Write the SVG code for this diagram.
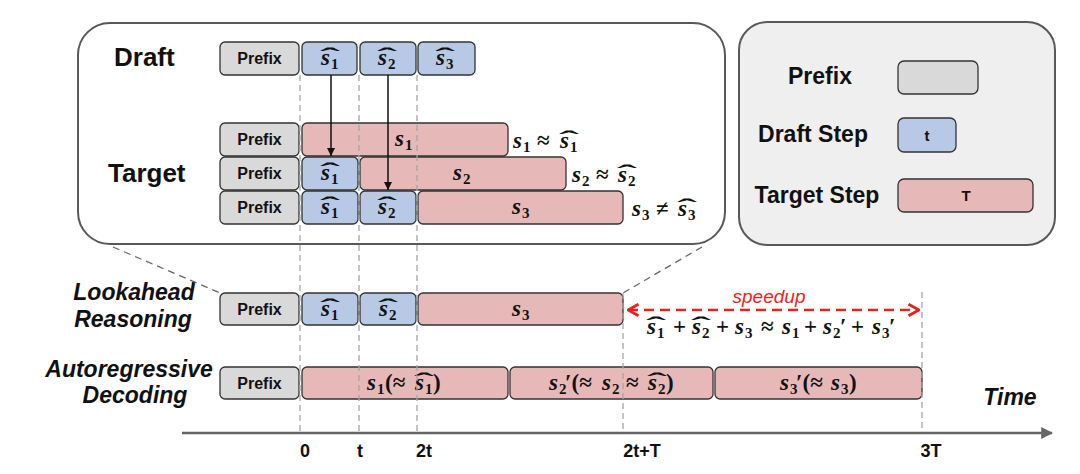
<svg xmlns="http://www.w3.org/2000/svg" width="1080" height="474" viewBox="0 0 1080 474">
<defs>
<style>
.pre{fill:#d9d9d9;stroke:#333;stroke-width:1.3}
.drf{fill:#b7c9e4;stroke:#333;stroke-width:1.3}
.tgt{fill:#e6b8b8;stroke:#333;stroke-width:1.3}
.t{font-family:"Liberation Sans",Arial,sans-serif;font-weight:bold;fill:#111}
.pf{font-size:16px;text-anchor:middle}
.big{font-size:26px}
.lg{font-size:23px;text-anchor:middle}
.it{font-style:italic;font-size:23px;text-anchor:middle}
.tick{font-size:18px;text-anchor:middle}
.m{font-family:"Liberation Serif","Times New Roman",serif;font-weight:bold;font-style:italic;font-size:23px;fill:#111}
.sb{font-size:15px;font-style:normal}
.op{font-style:normal}
.h{font-style:normal;font-size:23px}
.dl{stroke:#a6a6a6;stroke-width:1.3;stroke-dasharray:6 4;fill:none}
.zl{stroke:#666;stroke-width:1.3;stroke-dasharray:7 5;fill:none}
.ar{stroke:#111;stroke-width:1.5;fill:none}
</style>
<marker id="ah" viewBox="0 0 10 10" refX="10" refY="5" markerWidth="8" markerHeight="9" markerUnits="userSpaceOnUse" orient="auto"><path d="M0,0 L10,5 L0,10 z" fill="#111"/></marker>
<marker id="rh" viewBox="0 0 12 12" refX="11" refY="6" markerWidth="14" markerHeight="14" markerUnits="userSpaceOnUse" orient="auto-start-reverse"><path d="M2,1 L11,6 L2,11" fill="none" stroke="#f01e1e" stroke-width="2.4"/></marker>
<marker id="axh" viewBox="0 0 10 10" refX="9" refY="5" markerWidth="12" markerHeight="12" markerUnits="userSpaceOnUse" orient="auto"><path d="M0,0 L10,5 L0,10 z" fill="#666"/></marker>
</defs>
<rect width="1080" height="474" fill="#fff"/>

<g id="zoom-panel">
<rect x="78" y="23" width="647" height="221" rx="32" fill="#fff" stroke="#595959" stroke-width="2"/>
<text class="t big" x="114" y="66">Draft</text>
<text class="t big" x="108" y="182">Target</text>
</g>

<g id="legend">
<rect x="739" y="22" width="316" height="223" rx="28" fill="#efefef" stroke="#595959" stroke-width="2"/>
<text class="t lg" x="820" y="84">Prefix</text>
<rect class="pre" x="898" y="61" width="80" height="33" rx="6"/>
<text class="t lg" x="813" y="142">Draft Step</text>
<rect class="drf" x="898" y="118" width="58" height="34" rx="6"/>
<text class="t pf" x="927" y="141" style="font-size:15px">t</text>
<text class="t lg" x="817" y="203">Target Step</text>
<rect class="tgt" x="898" y="179" width="135" height="33" rx="6"/>
<text class="t pf" x="966" y="201" style="font-size:15px">T</text>
</g>

<!-- Draft row -->
<g id="draft-prefix"><rect class="pre" x="220" y="42" width="79" height="33" rx="5"/><text class="t pf" x="259.5" y="64">Prefix</text></g>
<g id="draft-s1"><rect class="drf" x="302" y="42" width="55" height="33" rx="5"/>
<text class="m" x="321" y="65">s<tspan class="sb" dx="1" dy="4">1</tspan><tspan class="h" x="320" y="64" textLength="20" lengthAdjust="spacingAndGlyphs">ˆ</tspan></text></g>
<g id="draft-s2"><rect class="drf" x="360" y="42" width="56" height="33" rx="5"/>
<text class="m" x="378" y="65">s<tspan class="sb" dx="1" dy="4">2</tspan><tspan class="h" x="377" y="64" textLength="20" lengthAdjust="spacingAndGlyphs">ˆ</tspan></text></g>
<g id="draft-s3"><rect class="drf" x="418" y="42" width="57" height="33" rx="5"/>
<text class="m" x="436" y="65">s<tspan class="sb" dx="1" dy="4">3</tspan><tspan class="h" x="435" y="64" textLength="20" lengthAdjust="spacingAndGlyphs">ˆ</tspan></text></g>

<!-- Target row 1 -->
<g id="t1-prefix"><rect class="pre" x="220" y="123" width="79" height="33" rx="5"/><text class="t pf" x="259.5" y="145">Prefix</text></g>
<g id="t1-s1"><rect class="tgt" x="302" y="123" width="206" height="33" rx="5"/>
<text class="m" x="395" y="146">s<tspan class="sb" dx="1" dy="4">1</tspan></text></g>
<g id="t1-check"><text class="m" y="148"><tspan x="513">s</tspan><tspan class="sb" x="523" y="152">1</tspan><tspan class="op" x="537" y="148">≈</tspan><tspan x="560">s</tspan><tspan class="sb" x="570" y="152">1</tspan><tspan class="h" x="559" y="147" textLength="20" lengthAdjust="spacingAndGlyphs">ˆ</tspan></text></g>

<!-- Target row 2 -->
<g id="t2-prefix"><rect class="pre" x="220" y="157" width="79" height="33" rx="5"/><text class="t pf" x="259.5" y="179">Prefix</text></g>
<g id="t2-s1"><rect class="drf" x="302" y="157" width="56" height="33" rx="5"/>
<text class="m" x="321" y="180">s<tspan class="sb" dx="1" dy="4">1</tspan><tspan class="h" x="320" y="179" textLength="20" lengthAdjust="spacingAndGlyphs">ˆ</tspan></text></g>
<g id="t2-s2"><rect class="tgt" x="360" y="157" width="206" height="33" rx="5"/>
<text class="m" x="453" y="180">s<tspan class="sb" dx="1" dy="4">2</tspan></text></g>
<g id="t2-check"><text class="m" y="182"><tspan x="572">s</tspan><tspan class="sb" x="582" y="186">2</tspan><tspan class="op" x="596" y="182">≈</tspan><tspan x="618">s</tspan><tspan class="sb" x="628" y="186">2</tspan><tspan class="h" x="617" y="181" textLength="20" lengthAdjust="spacingAndGlyphs">ˆ</tspan></text></g>

<!-- Target row 3 -->
<g id="t3-prefix"><rect class="pre" x="220" y="191" width="79" height="33" rx="5"/><text class="t pf" x="259.5" y="213">Prefix</text></g>
<g id="t3-s1"><rect class="drf" x="302" y="191" width="56" height="33" rx="5"/>
<text class="m" x="321" y="214">s<tspan class="sb" dx="1" dy="4">1</tspan><tspan class="h" x="320" y="213" textLength="20" lengthAdjust="spacingAndGlyphs">ˆ</tspan></text></g>
<g id="t3-s2"><rect class="drf" x="360" y="191" width="56" height="33" rx="5"/>
<text class="m" x="378" y="214">s<tspan class="sb" dx="1" dy="4">2</tspan><tspan class="h" x="377" y="213" textLength="20" lengthAdjust="spacingAndGlyphs">ˆ</tspan></text></g>
<g id="t3-s3"><rect class="tgt" x="418" y="191" width="205" height="33" rx="5"/>
<text class="m" x="512" y="214">s<tspan class="sb" dx="1" dy="4">3</tspan></text></g>
<g id="t3-check"><text class="m" y="216"><tspan x="632">s</tspan><tspan class="sb" x="642" y="220">3</tspan><tspan class="op" x="656" y="216">≠</tspan><tspan x="678">s</tspan><tspan class="sb" x="688" y="220">3</tspan><tspan class="h" x="677" y="215" textLength="20" lengthAdjust="spacingAndGlyphs">ˆ</tspan></text></g>

<!-- Lookahead row -->
<g id="la-label"><text class="t it" x="134" y="300">Lookahead</text><text class="t it" x="133" y="327">Reasoning</text></g>
<g id="la-prefix"><rect class="pre" x="220" y="293" width="79" height="32" rx="5"/><text class="t pf" x="259.5" y="315">Prefix</text></g>
<g id="la-s1"><rect class="drf" x="302" y="293" width="56" height="32" rx="5"/>
<text class="m" x="321" y="316">s<tspan class="sb" dx="1" dy="4">1</tspan><tspan class="h" x="320" y="315" textLength="20" lengthAdjust="spacingAndGlyphs">ˆ</tspan></text></g>
<g id="la-s2"><rect class="drf" x="360" y="293" width="56" height="32" rx="5"/>
<text class="m" x="379" y="316">s<tspan class="sb" dx="1" dy="4">2</tspan><tspan class="h" x="378" y="315" textLength="20" lengthAdjust="spacingAndGlyphs">ˆ</tspan></text></g>
<g id="la-s3"><rect class="tgt" x="418" y="293" width="205" height="32" rx="5"/>
<text class="m" x="512" y="316">s<tspan class="sb" dx="1" dy="4">3</tspan></text></g>

<!-- Autoregressive row -->
<g id="ar-label"><text class="t it" x="129" y="377">Autoregressive</text><text class="t it" x="135" y="403">Decoding</text></g>
<g id="ar-prefix"><rect class="pre" x="220" y="367" width="79" height="32" rx="5"/><text class="t pf" x="259.5" y="389">Prefix</text></g>
<g id="ar-s1"><rect class="tgt" x="302" y="367" width="206" height="32" rx="5"/>
<text class="m" y="390"><tspan x="367">s</tspan><tspan class="sb" x="377" y="394">1</tspan><tspan class="op" x="385" y="390">(≈</tspan><tspan x="415">s</tspan><tspan class="sb" x="425" y="394">1</tspan><tspan class="op" x="433" y="390">)</tspan><tspan class="h" x="414" y="389" textLength="20" lengthAdjust="spacingAndGlyphs">ˆ</tspan></text></g>
<g id="ar-s2"><rect class="tgt" x="510" y="367" width="203" height="32" rx="5"/>
<text class="m" y="390"><tspan x="549">s</tspan><tspan class="sb" x="559" y="394">2</tspan><tspan class="op" x="565" y="390">′(≈</tspan><tspan x="602">s</tspan><tspan class="sb" x="612" y="394">2</tspan><tspan class="op" x="626" y="390">≈</tspan><tspan x="648">s</tspan><tspan class="sb" x="658" y="394">2</tspan><tspan class="op" x="666" y="390">)</tspan><tspan class="h" x="647" y="389" textLength="20" lengthAdjust="spacingAndGlyphs">ˆ</tspan></text></g>
<g id="ar-s3"><rect class="tgt" x="715" y="367" width="207" height="32" rx="5"/>
<text class="m" y="390"><tspan x="780">s</tspan><tspan class="sb" x="790" y="394">3</tspan><tspan class="op" x="796" y="390">′(≈</tspan><tspan x="831">s</tspan><tspan class="sb" x="841" y="394">3</tspan><tspan class="op" x="849" y="390">)</tspan></text></g>

<!-- speedup -->
<g id="speedup">
<text x="769" y="303" style="font-family:'Liberation Sans',Arial,sans-serif;font-style:italic;font-size:19px;fill:#f01e1e;text-anchor:middle">speedup</text>
<text class="m" y="334"><tspan x="647">s</tspan><tspan class="sb" x="657" y="338">1</tspan><tspan class="op" x="673" y="334">+</tspan><tspan x="692">s</tspan><tspan class="sb" x="702" y="338">2</tspan><tspan class="op" x="716" y="334">+</tspan><tspan x="735">s</tspan><tspan class="sb" x="745" y="338">3</tspan><tspan class="op" x="761" y="334">≈</tspan><tspan x="782">s</tspan><tspan class="sb" x="792" y="338">1</tspan><tspan class="op" x="804" y="334">+</tspan><tspan x="823">s</tspan><tspan class="sb" x="833" y="338">2</tspan><tspan class="op" x="840" y="334">′</tspan><tspan class="op" x="851">+</tspan><tspan x="872">s</tspan><tspan class="sb" x="882" y="338">3</tspan><tspan class="op" x="889" y="334">′</tspan><tspan class="h" x="646" y="333" textLength="20" lengthAdjust="spacingAndGlyphs">ˆ</tspan><tspan class="h" x="691" y="333" textLength="20" lengthAdjust="spacingAndGlyphs">ˆ</tspan></text>
</g>

<g id="time-label"><text class="t" x="1010" y="405" style="font-size:23px;font-style:italic;text-anchor:middle">Time</text></g>
<g id="ticks">
<text class="t tick" x="305" y="457">0</text>
<text class="t tick" x="360" y="457">t</text>
<text class="t tick" x="424" y="457">2t</text>
<text class="t tick" x="642" y="457">2t+T</text>
<text class="t tick" x="931" y="457">3T</text>
</g>

<g id="connectors">
<line class="dl" x1="300" y1="75" x2="300" y2="433"/>
<line class="dl" x1="359" y1="75" x2="359" y2="433"/>
<line class="dl" x1="417" y1="75" x2="417" y2="433"/>
<line class="dl" x1="623" y1="293" x2="623" y2="433"/>
<line class="dl" x1="922" y1="292" x2="922" y2="433"/>
<line class="zl" x1="113" y1="247" x2="220" y2="293"/>
<line class="zl" x1="702" y1="247" x2="623" y2="293"/>
<line class="ar" x1="331" y1="75" x2="331" y2="156" marker-end="url(#ah)"/>
<line class="ar" x1="388" y1="75" x2="388" y2="190" marker-end="url(#ah)"/>
<line x1="628" y1="310" x2="919" y2="310" stroke="#f01e1e" stroke-width="2.6" stroke-dasharray="10 6" marker-start="url(#rh)" marker-end="url(#rh)"/>
<line x1="182" y1="433" x2="1052" y2="433" stroke="#666" stroke-width="2.6" marker-end="url(#axh)"/>
</g>
</svg>
